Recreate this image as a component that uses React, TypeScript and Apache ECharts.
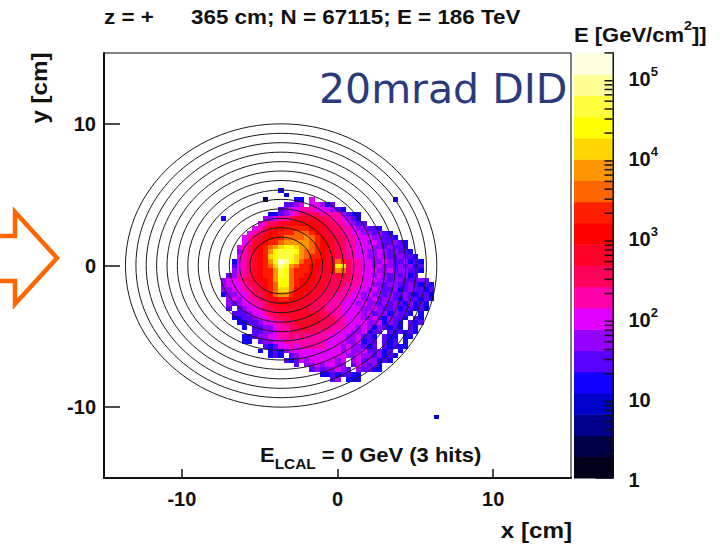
import React, { useEffect, useRef } from "react";
import * as echarts from "echarts";

const FONT = "'Liberation Sans', Arial, sans-serif";

// Colour-scale bands, bottom to top (20 steps of the log scale).
const palette = [
  "#00001a", "#000048", "#00008c", "#0000cc", "#1400ff",
  "#5a00ff", "#9600ff", "#e100ff", "#ff00aa", "#ff005a",
  "#ff0028", "#ff0000", "#ff1e00", "#ff6400", "#ff9600",
  "#ffd700", "#ffff00", "#ffff3c", "#ffff96", "#ffffe1",
];
const colorbarTopLog = 5.3;

// Hit map: one string per row, one char per cell, base-36 palette index; "." = no hit.
const cellRows = [
  "............4",
  ".............3",
  ".........1.....44.7...............4",
  ".............5567.77645",
  "............5677888777654",
  "..........445678999988886544",
  ".4.......667889aaaaa99887654",
  "........7899aabbbbbaa99887655",
  ".......789abbcccccbbaa9988766554",
  "......789abbcccdddcbaa998877665654",
  ".....789abbccddddedcbaa998877766554",
  ".....78aabccdeeeeedcbba99887767655654",
  "....789abcdefggfeedcbba99887776656554",
  "....689abceghhhgeddcbaa998877667656554",
  "....789abcfghhhfedccbaa9988776676556554",
  "...4789abcegjigfdccbbaadc988776676556454",
  "...5789abcdfihedccbbaabgf988776766565645",
  "...6789abccehgdcccbaaabed988777667566554",
  "..56889abccehgdccbbaaa9aa98877676565645",
  ".677899abbceggdcbbbaaa9999887776656655565",
  ".6777899abcdggdcbbaaa999988877665665565454",
  ".6677889aacdffdbbbaaa999888776765564565545",
  ".46677899abdeecbbaaa9998887767665655654553",
  "..6767889aabccbbaaa99988877766756654655454",
  "..65677889aabbaaaa99988877767665656546454",
  "..5.5677899aaaaaaa99988877776676556455453",
  "...555677899aaaaaaaa998877776756646554.4",
  "...44556778999aaaaaa99988777667546554.54",
  "....44556778899aaaaa9998877776674654.545",
  ".....4.556678899aa999988877676465454.54",
  ".......5566788999999888777667455.545454",
  ".....44566778898988888777667554.544.44",
  ".....44.5667788888888777766745 5.545.4".replace(" ", ""),
  ".........5457787888887776766545.54544",
  "........4.454677777777776766755645.4",
  "..........454.567777777776676656454",
  ".............545767777767.67566454",
  "...............5.66767766.576564",
  "..................56566765.65644",
  "....................44545544",
  "......................56.444",
];
// Lone hits far from the footprint: [column, row] in the same grid, with their level.
const strayCols = [42];
const strayRows = [48];
const strayLevels = [3];

const gridLeftCm = -7.8;
const gridTopCm = 5.47;
const binCm = 1 / 3;

// Circles around the beam pipe.
const ringCenterX = -3.62;
const ringCenterY = 0;
const ringRadii = [2, 2.67, 3.33, 4, 4.67, 5.33, 6, 6.67, 7.33, 8, 8.67, 9.33, 10];

const xTicks = [-10, 0, 10];
const yTicks = [-10, 0, 10];
const cbarDecades = [1, 10, 100, 1000, 10000, 100000];
const cbarMinorFactors = [2, 3, 4, 5, 6, 7, 8, 9];

function buildCells() {
  const out: number[][] = [];
  cellRows.forEach((row, r) => {
    row.split("").forEach((ch, c) => {
      if (ch !== ".") out.push([gridLeftCm + c * binCm, gridTopCm - r * binCm, parseInt(ch, 36)]);
    });
  });
  strayCols.forEach((c, k) => {
    out.push([gridLeftCm + c * binCm, gridTopCm - strayRows[k] * binCm, strayLevels[k]]);
  });
  return out;
}

export default function App() {
  const ref = useRef<HTMLDivElement>(null);
  useEffect(() => {
    const chart = echarts.init(ref.current!, null, { renderer: "svg" });
    const minorTicks: number[][] = [];
    cbarDecades.forEach((d) =>
      cbarMinorFactors.forEach((f) => {
        if (d * f <= Math.pow(10, colorbarTopLog) * 1.01) minorTicks.push([d * f]);
      })
    );
    const bold = (size: number) => ({
      fontFamily: FONT, fontWeight: "bold" as const, fontSize: size, fill: "#111",
      verticalAlign: "middle" as const,
    });
    chart.setOption({
      animation: false,
      backgroundColor: "#fff",
      grid: [
        { left: 104, top: 53, width: 467, height: 425, show: true, borderColor: "#000", borderWidth: 1, backgroundColor: "#fff" },
        { left: 574, top: 53, width: 38.5, height: 425, show: false },
      ],
      xAxis: [
        {
          type: "value", gridIndex: 0, min: -15, max: 15, interval: 5,
          splitLine: { show: false },
          axisLine: { onZero: false, lineStyle: { color: "#111", width: 2 } },
          axisTick: { inside: true, length: 9, customValues: xTicks, lineStyle: { color: "#111", width: 1.5 } },
          axisLabel: { customValues: xTicks, margin: 11, color: "#111", fontFamily: FONT, fontWeight: "bold", fontSize: 20 },
        },
        { type: "value", gridIndex: 1, min: 0, max: 1, show: false },
      ],
      yAxis: [
        {
          type: "value", gridIndex: 0, min: -15, max: 15, interval: 5,
          splitLine: { show: false },
          axisLine: { onZero: false, lineStyle: { color: "#111", width: 2 } },
          axisTick: { inside: true, length: 16, customValues: yTicks, lineStyle: { color: "#111", width: 1.5 } },
          axisLabel: { customValues: yTicks, margin: 8, color: "#111", fontFamily: FONT, fontWeight: "bold", fontSize: 20 },
        },
        {
          type: "log", gridIndex: 1, logBase: 10, min: 1, max: Math.pow(10, colorbarTopLog), position: "right",
          splitLine: { show: false },
          axisLine: { onZero: false, lineStyle: { color: "#111", width: 2 } },
          axisTick: { inside: true, length: 17, customValues: cbarDecades, lineStyle: { color: "#111", width: 1.5 } },
          axisLabel: {
            customValues: cbarDecades,
            margin: 16,
            formatter: (v: number) => {
              const e = Math.round(Math.log10(v));
              if (e === 0) return "{b|1}";
              if (e === 1) return "{b|10}";
              return `{b|10}{s|${e}}`;
            },
            rich: {
              b: { fontFamily: FONT, fontWeight: "bold", fontSize: 20, color: "#111", lineHeight: 24, verticalAlign: "bottom" },
              s: { fontFamily: FONT, fontWeight: "bold", fontSize: 13, color: "#111", lineHeight: 24, verticalAlign: "top" },
            },
          },
        },
      ],
      series: [
        {
          type: "custom", xAxisIndex: 0, yAxisIndex: 0, z: 2, silent: true,
          data: buildCells(),
          renderItem: (_: any, api: any) => {
            const x = api.value(0), y = api.value(1);
            const a = api.coord([x, y]);
            const b = api.coord([x + binCm, y - binCm]);
            const x0 = Math.round(a[0]), y0 = Math.round(a[1]);
            return {
              type: "rect",
              shape: { x: x0, y: y0, width: Math.round(b[0]) - x0, height: Math.round(b[1]) - y0 },
              style: { fill: palette[api.value(2)], stroke: null },
            };
          },
        },
        {
          type: "custom", xAxisIndex: 0, yAxisIndex: 0, z: 3, silent: true,
          data: ringRadii.map((r) => [r]),
          renderItem: (_: any, api: any) => {
            const r = api.value(0);
            const c = api.coord([ringCenterX, ringCenterY]);
            const e = api.coord([ringCenterX + r, ringCenterY + r]);
            return {
              type: "ellipse",
              shape: { cx: c[0], cy: c[1], rx: e[0] - c[0], ry: c[1] - e[1] },
              style: { fill: "none", stroke: "#1a1a1a", lineWidth: 1 },
            };
          },
        },
        {
          type: "custom", xAxisIndex: 1, yAxisIndex: 1, z: 2, silent: true,
          data: palette.map((_, i) => [i]),
          renderItem: (_: any, api: any) => {
            const i = api.value(0);
            const step = colorbarTopLog / palette.length;
            const a = api.coord([0, Math.pow(10, (i + 1) * step)]);
            const b = api.coord([1, Math.pow(10, i * step)]);
            return {
              type: "rect",
              shape: { x: a[0], y: a[1], width: b[0] - a[0], height: b[1] - a[1] + 0.5 },
              style: { fill: palette[i], stroke: null },
            };
          },
        },
        {
          type: "custom", xAxisIndex: 1, yAxisIndex: 1, z: 4, silent: true,
          data: minorTicks,
          renderItem: (_: any, api: any) => {
            const p = api.coord([1, api.value(0)]);
            return {
              type: "line",
              shape: { x1: p[0] - 8, y1: p[1], x2: p[0], y2: p[1] },
              style: { stroke: "#111", lineWidth: 1.5 },
            };
          },
        },
      ],
      graphic: [
        { type: "text", x: 104, y: 17, scaleX: 1.12, style: { ...bold(20), text: "z = +" } },
        { type: "text", x: 191, y: 17, scaleX: 1.12, style: { ...bold(20), text: "365 cm; N = 67115; E = 186 TeV" } },
        {
          type: "text", x: 574, y: 32, scaleX: 1.1,
          style: {
            text: "{m|E [GeV/cm}{s|2}{m|]]}",
            verticalAlign: "middle",
            rich: {
              m: { fontFamily: FONT, fontWeight: "bold", fontSize: 20, fill: "#111", lineHeight: 26, verticalAlign: "bottom" },
              s: { fontFamily: FONT, fontWeight: "bold", fontSize: 13, fill: "#111", lineHeight: 26, verticalAlign: "top" },
            },
          },
        },
        {
          type: "text", x: 319, y: 89, z: 10,
          style: { text: "20mrad DID", fill: "#2a3a7c", fontFamily: "'DejaVu Sans'", fontSize: 41, verticalAlign: "middle" },
        },
        {
          type: "text", x: 260, y: 458, z: 10, scaleX: 1.1,
          style: {
            text: "{m|E}{s|LCAL}{m| = 0 GeV (3 hits)}",
            verticalAlign: "middle",
            rich: {
              m: { fontFamily: FONT, fontWeight: "bold", fontSize: 20, fill: "#111", lineHeight: 26, verticalAlign: "top" },
              s: { fontFamily: FONT, fontWeight: "bold", fontSize: 14, fill: "#111", lineHeight: 26, verticalAlign: "bottom" },
            },
          },
        },
        { type: "text", x: 572, y: 530, scaleX: 1.1, style: { ...bold(22), text: "x [cm]", align: "right" } },
        { type: "text", x: 39, y: 88, rotation: Math.PI / 2, scaleX: 1.1, style: { ...bold(22), text: "y [cm]", align: "center" } },
        {
          type: "polyline",
          shape: { points: [[0, 236], [15, 236], [15, 212], [57, 258], [15, 304], [15, 281], [0, 281]] },
          style: { fill: "none", stroke: "#ff6600", lineWidth: 4.5, lineJoin: "miter" },
        },
      ],
    });
    return () => chart.dispose();
  }, []);
  return <div ref={ref} style={{ position: "absolute", left: 0, top: 0, width: 720, height: 544 }} />;
}
